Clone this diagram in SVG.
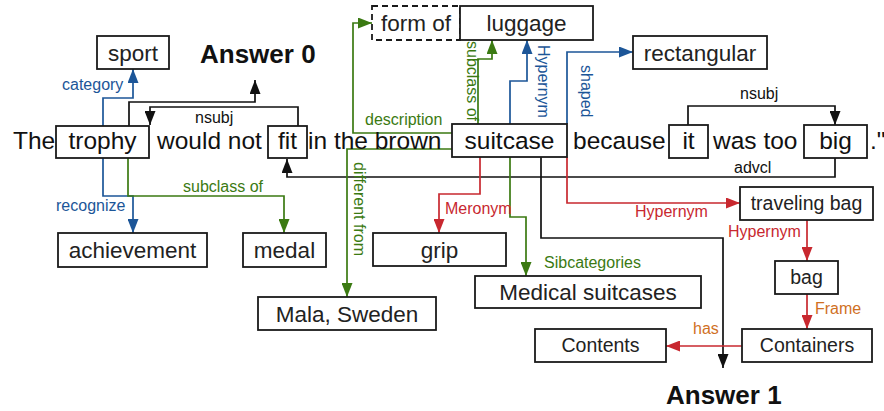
<svg xmlns="http://www.w3.org/2000/svg" width="884" height="411" viewBox="0 0 884 411">
<defs>
<style>
.box{fill:#fff;stroke:#1a1a1a;stroke-width:1.8}
.dash{fill:#fff;stroke:#1a1a1a;stroke-width:1.8;stroke-dasharray:6 4}
.nt{font-family:"Liberation Sans",Arial,sans-serif;font-size:22.5px;fill:#222;text-anchor:middle}
.nt2{font-family:"Liberation Sans",Arial,sans-serif;font-size:19.5px;fill:#222;text-anchor:middle}
.st{font-family:"Liberation Sans",Arial,sans-serif;font-size:24.5px;fill:#111}
.stc{font-family:"Liberation Sans",Arial,sans-serif;font-size:24.5px;fill:#111;text-anchor:middle}
.ans{font-family:"Liberation Sans",Arial,sans-serif;font-size:26px;font-weight:bold;fill:#111}
.el{font-family:"Liberation Sans",Arial,sans-serif;font-size:16px}
.e{fill:none;stroke-width:1.7}
.k{stroke:#111}.b{stroke:#1c5698}.g{stroke:#3b7a12}.r{stroke:#c8282f}
.lk{fill:#111}.lb{fill:#1c5698}.lg{fill:#3b7a12}.lr{fill:#c8282f}.lo{fill:#d0701f}
</style>
<marker id="ak" viewBox="0 0 14 11" refX="14" refY="5.5" markerWidth="14" markerHeight="11" markerUnits="userSpaceOnUse" orient="auto"><path d="M0,0 L14,5.5 L0,11 z" fill="#111"/></marker>
<marker id="ab" viewBox="0 0 14 11" refX="14" refY="5.5" markerWidth="14" markerHeight="11" markerUnits="userSpaceOnUse" orient="auto"><path d="M0,0 L14,5.5 L0,11 z" fill="#1c5698"/></marker>
<marker id="ag" viewBox="0 0 14 11" refX="14" refY="5.5" markerWidth="14" markerHeight="11" markerUnits="userSpaceOnUse" orient="auto"><path d="M0,0 L14,5.5 L0,11 z" fill="#3b7a12"/></marker>
<marker id="ar" viewBox="0 0 14 11" refX="14" refY="5.5" markerWidth="14" markerHeight="11" markerUnits="userSpaceOnUse" orient="auto"><path d="M0,0 L14,5.5 L0,11 z" fill="#c8282f"/></marker>
</defs>
<rect width="884" height="411" fill="#fff"/>

<g id="connectors">
<path class="e k" d="M129,126 V102 H255 V80" marker-end="url(#ak)"/>
<path class="e k" d="M298,126 V107 H150 V125" marker-end="url(#ak)"/>
<path class="e k" d="M688,125 V106 H835 V125" marker-end="url(#ak)"/>
<path class="e k" d="M835,158 V177 H287 V159" marker-end="url(#ak)"/>
<path class="e k" d="M541,157 V238 H723 V368" marker-end="url(#ak)"/>
<path class="e b" d="M103,126 V98 H133 V69" marker-end="url(#ab)"/>
<path class="e b" d="M103,158 V196 H133 V233" marker-end="url(#ab)"/>
<path class="e b" d="M510,124 V81 H527 V40" marker-end="url(#ab)"/>
<path class="e b" d="M567,124 V52 H633" marker-end="url(#ab)"/>
<path class="e g" d="M128,158 V196 H284 V233" marker-end="url(#ag)"/>
<path class="e g" d="M452,133 H353 V23 H372" marker-end="url(#ag)"/>
<path class="e g" d="M478,124 V59 H492 V40" marker-end="url(#ag)"/>
<path class="e g" d="M452,149 H347 V297" marker-end="url(#ag)"/>
<path class="e g" d="M510,157 V217 H526 V276" marker-end="url(#ag)"/>
<path class="e r" d="M480,157 V194 H439 V233" marker-end="url(#ar)"/>
<path class="e r" d="M567,157 V203 H740" marker-end="url(#ar)"/>
<path class="e r" d="M807,220 V261" marker-end="url(#ar)"/>
<path class="e r" d="M807,294 V329" marker-end="url(#ar)"/>
<path class="e r" d="M742,346 H666" marker-end="url(#ar)"/>
<text class="el lk" x="195" y="123">nsubj</text>
<text class="el lk" x="740" y="99">nsubj</text>
<text class="el lk" x="734" y="173">advcl</text>
<text class="el lb" x="62" y="90">category</text>
<text class="el lb" x="56" y="211">recognize</text>
<text class="el lb" transform="translate(538,45) rotate(90)">Hypernym</text>
<text class="el lb" transform="translate(581,65) rotate(90)">shaped</text>
<text class="el lg" x="183" y="192">subclass of</text>
<text class="el lg" x="365" y="125">description</text>
<text class="el lg" transform="translate(467,41) rotate(90)">subclass of</text>
<text class="el lg" transform="translate(354,162) rotate(90)">different from</text>
<text class="el lg" x="544" y="268">Sibcategories</text>
<text class="el lr" x="445" y="214">Meronym</text>
<text class="el lr" x="635" y="217">Hypernym</text>
<text class="el lr" x="728" y="237">Hypernym</text>
<text class="el lo" x="815" y="314">Frame</text>
<text class="el lo" x="693" y="334">has</text>
</g>

<g id="sentence">
<text class="st" x="13" y="149">The</text>
<text class="st" x="157" y="149">would not</text>
<text class="st" x="308" y="149">in the brown</text>
<text class="st" x="573" y="149">because</text>
<text class="st" x="713" y="149">was too</text>
<text class="st" x="870" y="149">."</text>
</g>
<g id="trophy"><rect class="box" x="56" y="126" width="93" height="32"/><text class="stc" x="102.5" y="149">trophy</text></g>
<g id="fit"><rect class="box" x="268" y="126" width="39" height="32"/><text class="stc" x="287.5" y="149">fit</text></g>
<g id="suitcase"><rect class="box" x="452" y="124" width="115" height="33"/><text class="stc" x="509.5" y="149">suitcase</text></g>
<g id="it"><rect class="box" x="669" y="125" width="39" height="33"/><text class="stc" x="688.5" y="149">it</text></g>
<g id="big"><rect class="box" x="804" y="125" width="63" height="33"/><text class="stc" x="835.5" y="149">big</text></g>

<g id="sport"><rect class="box" x="97" y="36" width="72" height="33"/><text class="nt" x="133" y="60.5">sport</text></g>
<g id="answer0"><text class="ans" x="200" y="63">Answer 0</text></g>
<g id="formof"><rect class="dash" x="372" y="6" width="88" height="34"/><text class="nt" x="416" y="31">form of</text></g>
<g id="luggage"><rect class="box" x="460" y="6" width="133" height="34"/><text class="nt" x="526.5" y="31">luggage</text></g>
<g id="rectangular"><rect class="box" x="633" y="36" width="134" height="33"/><text class="nt" x="700" y="60.5">rectangular</text></g>
<g id="achievement"><rect class="box" x="58" y="233" width="149" height="34"/><text class="nt" x="132.5" y="258">achievement</text></g>
<g id="medal"><rect class="box" x="243" y="233" width="83" height="34"/><text class="nt" x="284.5" y="258">medal</text></g>
<g id="grip"><rect class="box" x="373" y="233" width="133" height="33"/><text class="nt" x="439.5" y="257.5">grip</text></g>
<g id="mala"><rect class="box" x="258" y="297" width="178" height="33"/><text class="nt" x="347" y="321.5">Mala, Sweden</text></g>
<g id="medical"><rect class="box" x="475" y="276" width="226" height="32"/><text class="nt" x="588" y="300">Medical suitcases</text></g>
<g id="travelingbag"><rect class="box" x="740" y="187" width="133" height="33"/><text class="nt2" x="806.5" y="210">traveling bag</text></g>
<g id="bag"><rect class="box" x="775" y="261" width="63" height="33"/><text class="nt2" x="806.5" y="284">bag</text></g>
<g id="containers"><rect class="box" x="742" y="329" width="130" height="33"/><text class="nt2" x="807" y="352">Containers</text></g>
<g id="contents"><rect class="box" x="535" y="329" width="131" height="33"/><text class="nt2" x="600.5" y="352">Contents</text></g>
<g id="answer1"><text class="ans" x="666" y="404">Answer 1</text></g>
</svg>
